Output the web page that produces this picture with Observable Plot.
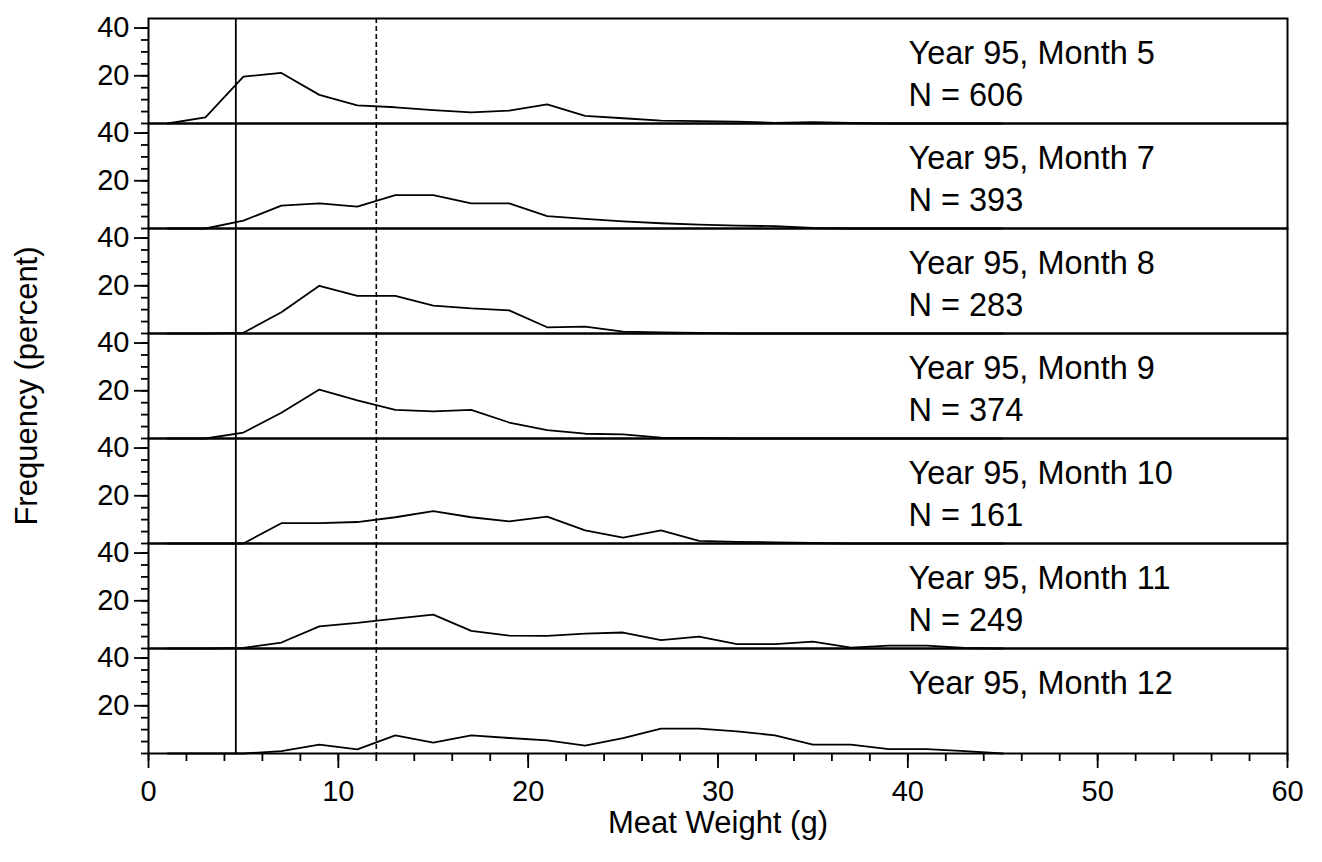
<!DOCTYPE html>
<html>
<head>
<meta charset="utf-8">
<script src="https://cdn.jsdelivr.net/npm/d3@7"></script>
<script src="https://cdn.jsdelivr.net/npm/@observablehq/plot@0.6"></script>
<style>
  html, body { margin: 0; padding: 0; background: #fff; }
</style>
</head>
<body>
<div id="chart"></div>
<script>
// Bin midpoints of meat weight (g)
const weights = [1, 3, 5, 7, 9, 11, 13, 15, 17, 19, 21, 23, 25, 27, 29, 31, 33, 35, 37, 39, 41, 43, 45];

// Frequency (percent) per month, Year 95
const month5  = [0, 2.6, 19.6, 21.2, 12, 7.6, 6.8, 5.6, 4.7, 5.4, 8, 3.2, 2.2, 1.2, 1.0, 0.8, 0.3, 0.6, 0.2, 0, 0, 0, 0];
const month7  = [0, 0, 3.3, 9.6, 10.5, 9.2, 14, 14, 10.5, 10.5, 5.2, 4.0, 3.0, 2.2, 1.6, 1.2, 1.0, 0.2, 0, 0, 0, 0, 0];
const month8  = [0, 0, 0.3, 8.9, 20, 15.8, 15.8, 11.7, 10.5, 9.7, 2.6, 2.9, 0.8, 0.5, 0.3, 0, 0, 0, 0, 0, 0, 0, 0];
const month9  = [0, 0, 2.5, 10.8, 20.5, 16, 12, 11.4, 12, 6.7, 3.5, 2, 1.7, 0.4, 0.2, 0, 0, 0, 0, 0, 0, 0, 0];
const month10 = [0, 0, 0, 8.5, 8.5, 9, 11, 13.6, 11, 9.3, 11.3, 5.5, 2.5, 5.5, 1.1, 0.7, 0.5, 0.2, 0, 0, 0, 0, 0];
const month11 = [0, 0, 0.3, 2.5, 9.3, 10.7, 12.5, 14.2, 7.4, 5.4, 5.3, 6.2, 6.7, 3.5, 5, 1.8, 1.8, 2.9, 0.4, 1.2, 1.2, 0.2, 0];
const month12 = [0, 0, 0, 1, 3.7, 1.7, 7.6, 4.6, 7.6, 6.5, 5.5, 3.3, 6.4, 10.4, 10.4, 9.3, 7.6, 3.7, 3.7, 1.8, 1.8, 1, 0];

const months = [5, 7, 8, 9, 10, 11, 12];
const counts = [606, 393, 283, 374, 161, 249, null];
const series = [month5, month7, month8, month9, month10, month11, month12];

// Reference lines (g)
const solidRef = [4.6];
const dashedRef = [12];

// Tick values
const xMajorTicks = [0, 10, 20, 30, 40, 50, 60];
const xMinorTicks = [0, 2, 4, 6, 8, 10, 12, 14, 16, 18, 20, 22, 24, 26, 28, 30, 32, 34, 36, 38, 40, 42, 44, 46, 48, 50, 52, 54, 56, 58, 60];
const yMajorTicks = [20, 40];
const yMinorTicks = [0, 5, 10, 15, 20, 25, 30, 35, 40];

const xLabel = "Meat Weight (g)";
const yLabel = "Frequency (percent)";

const rows = months.flatMap((m, i) => weights.map((w, j) => ({month: m, weight: w, freq: series[i][j]})));
const panels = months.map((m, i) => ({month: m, n: counts[i]}));

const chart = Plot.plot({
  width: 1322,
  height: 862,
  marginTop: 15,
  marginBottom: 107,
  marginLeft: 148,
  marginRight: 35,
  style: {fontFamily: "'Liberation Sans', Arial, Helvetica, sans-serif", fontSize: "29px", color: "black", background: "white", overflow: "visible"},
  x: {domain: [0, 60]},
  y: {domain: [0, 44]},
  fy: {domain: months, padding: 0, axis: null},
  marks: [
    Plot.frame({stroke: "black", strokeWidth: 2}),
    Plot.ruleX(solidRef, {stroke: "black", strokeWidth: 1.8}),
    Plot.ruleX(dashedRef, {stroke: "black", strokeWidth: 1.6, strokeDasharray: "5,3"}),
    Plot.lineY(rows, {x: "weight", y: "freq", fy: "month", stroke: "black", strokeWidth: 1.8}),
    Plot.axisY({ticks: yMajorTicks, tickSize: 14, tickPadding: 5, fontSize: 29, label: null, facetAnchor: "left", strokeWidth: 1.8}),
    Plot.axisY({ticks: yMinorTicks, tickSize: 7, tickFormat: () => "", label: null, facetAnchor: "left", strokeWidth: 1.8}),
    Plot.axisX({ticks: xMajorTicks, tickSize: 15, tickPadding: 12, fontSize: 29, label: null, facetAnchor: "bottom", strokeWidth: 1.8}),
    Plot.axisX({ticks: xMinorTicks, tickSize: 8, tickFormat: () => "", label: null, facetAnchor: "bottom", strokeWidth: 1.8}),
    Plot.text(panels, {fy: "month", text: d => `Year 95, Month ${d.month}`, frameAnchor: "top-left", lineAnchor: "top", textAnchor: "start", dx: 760, dy: 22, fontSize: 32.5}),
    Plot.text(panels.filter(d => d.n != null), {fy: "month", text: d => `N = ${d.n}`, frameAnchor: "top-left", lineAnchor: "top", textAnchor: "start", dx: 760, dy: 64, fontSize: 32.5}),
    Plot.text([xLabel], {fy: () => months[months.length - 1], text: d => d, frameAnchor: "bottom", textAnchor: "middle", lineAnchor: "middle", dy: 70, fontSize: 31}),
    Plot.text([yLabel], {fy: () => months[3], text: d => d, frameAnchor: "left", rotate: -90, textAnchor: "middle", lineAnchor: "middle", dx: -121, fontSize: 31})
  ]
});
document.getElementById("chart").appendChild(chart);
</script>
</body>
</html>
